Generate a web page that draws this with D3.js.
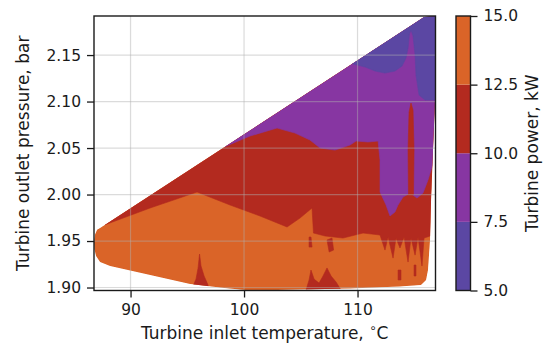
<!DOCTYPE html>
<html>
<head>
<meta charset="utf-8">
<script src="https://cdn.jsdelivr.net/npm/d3@7"></script>
<style>
  html, body { margin: 0; padding: 0; background: #fff; }
  svg { display: block; font-family: "DejaVu Sans", sans-serif; }
</style>
</head>
<body>
<svg id="chart" width="544" height="345"></svg>
<script>
// Axis ticks and contour levels
const temperatureTicks = [90, 100, 110];
const pressureTicks = [1.90, 1.95, 2.00, 2.05, 2.10, 2.15];
const powerLevels = [5, 7.5, 10, 12.5, 15];
const bandColors = ["#5b47a3", "#8736a2", "#b32a1f", "#da6428"];

// Outline of the operating region, [inlet temperature °C, outlet pressure bar]
const regionOutline = [
  [86.78, 1.949], [86.87, 1.957], [87.05, 1.962], [87.31, 1.964],
  [115.86, 2.191], [116.87, 2.192], [116.87, 2.166], [116.83, 2.1016],
  [116.65, 2.0478], [116.48, 1.9941], [116.39, 1.9511], [116.21, 1.9188],
  [116.04, 1.9081], [115.59, 1.9027], [113.74, 1.9011], [109.34, 1.8989],
  [104.93, 1.8978], [100.53, 1.8968], [98.24, 1.8995], [95.24, 1.9038],
  [91.72, 1.9134], [88.19, 1.9231], [87.31, 1.9274], [86.96, 1.9339],
  [86.81, 1.9414]
];

// Power 10–12.5 kW: everything above the 12.5 kW contour
const band10to12 = [
  [87.75, 1.9675], [91.72, 1.9855], [95.86, 2.0027], [98.77, 1.9887],
  [101.41, 1.9769], [103.79, 1.9651], [104.93, 1.9747], [105.99, 1.9855],
  [106.12, 1.9586], [107.14, 1.9554], [108.72, 1.9532], [110.49, 1.9586],
  [111.98, 1.9565], [112.42, 1.9403], [112.69, 1.9543], [113.13, 1.9317],
  [113.39, 1.9532], [113.74, 1.9425], [114.10, 1.9543], [114.45, 1.9274],
  [114.71, 1.9532], [115.07, 1.9349], [115.33, 1.9543], [115.68, 1.9231],
  [115.86, 1.9532], [116.40, 1.9554], [116.48, 1.9941], [116.65, 2.0478],
  [116.83, 2.1016], [116.87, 2.166], [116.87, 2.192], [115.86, 2.191]
];

// Power 7.5–10 kW: everything above the 10 kW contour
const band7to10 = [
  [98.33, 2.0516], [100.53, 2.0629], [102.91, 2.0715], [104.49, 2.0661],
  [105.81, 2.0586], [106.70, 2.0500], [108.02, 2.0478], [109.34, 2.0532],
  [109.87, 2.0575], [110.93, 2.0565], [111.81, 2.0575], [111.98, 2.0371],
  [111.98, 2.0027], [112.51, 1.9887], [112.86, 1.9769], [113.30, 1.9812],
  [113.57, 1.9887], [114.01, 1.9973], [114.63, 2.0016], [115.24, 1.9962],
  [115.77, 2.0016], [116.21, 2.0156], [116.61, 2.0317], [116.83, 2.1016],
  [116.87, 2.166], [116.87, 2.192], [115.86, 2.191]
];

// Power 5–7.5 kW: everything above the 7.5 kW contour
const band5to7 = [
  [109.52, 2.1406], [110.67, 2.1371], [111.55, 2.1328], [112.42, 2.1306],
  [113.30, 2.1328], [113.92, 2.1382], [114.27, 2.1468], [114.45, 2.1575],
  [114.58, 2.1726], [114.71, 2.1769], [114.89, 2.1704], [115.07, 2.1500],
  [115.15, 2.1285], [115.42, 2.1070], [115.95, 2.1016], [116.83, 2.1016],
  [116.87, 2.166], [116.87, 2.192], [115.86, 2.191]
];

// Isolated 10–12.5 kW pockets
const pocketNarrow = [
  [114.49, 1.9995], [114.45, 2.0478], [114.54, 2.0887], [114.71, 2.0984],
  [114.89, 2.0909], [114.98, 2.0478], [114.93, 1.9995]
];
const pocketLowA = [
  [95.51, 1.9016], [95.77, 1.9091], [95.95, 1.9210], [96.08, 1.9360],
  [96.21, 1.9231], [96.48, 1.9124], [96.83, 1.9027], [96.83, 1.895], [95.51, 1.895]
];
const pocketLowB = [
  [105.46, 1.8973], [105.73, 1.9081], [105.90, 1.9188], [106.17, 1.9091],
  [106.61, 1.9048], [106.96, 1.9124], [107.31, 1.9210], [107.67, 1.9124],
  [108.11, 1.9059], [108.55, 1.8973], [108.55, 1.895], [105.46, 1.895]
];
const pocketSpotA = [[105.73, 1.9543], [105.90, 1.9543], [105.99, 1.9435], [105.73, 1.9435]];
const pocketSpotB = [[107.31, 1.9511], [107.75, 1.9532], [107.89, 1.9403], [107.50, 1.9382]];
const pocketSpotC = [[113.57, 1.9188], [113.83, 1.9188], [113.83, 1.9081], [113.57, 1.9081]];
const pocketSpotD = [[114.98, 1.9242], [115.15, 1.9242], [115.15, 1.9124], [114.98, 1.9124]];

// Filled regions in drawing order, each tagged with its band's lower level
const regions = [
  { level: 12.5, points: regionOutline },
  { level: 10, points: band10to12 },
  { level: 7.5, points: band7to10 },
  { level: 5, points: band5to7 },
  { level: 10, points: pocketNarrow },
  { level: 10, points: pocketLowA },
  { level: 10, points: pocketLowB },
  { level: 10, points: pocketSpotA },
  { level: 10, points: pocketSpotB },
  { level: 10, points: pocketSpotC },
  { level: 10, points: pocketSpotD }
];

const svg = d3.select("#chart");
const plot = { left: 94, right: 435.5, top: 16, bottom: 290.5 };
const bar = { left: 456, right: 470.5 };
const tickFont = 15.5, labelFont = 17, tickLen = 7, tickPad = 6;
const ink = "#1a1a1a";

const x = d3.scaleLinear()
  .domain(d3.extent(regionOutline, d => d[0]))
  .range([plot.left, plot.right]);
const y = d3.scaleLinear()
  .domain(d3.extent(regionOutline, d => d[1]))
  .range([plot.bottom, plot.top]);

const color = d3.scaleThreshold()
  .domain(powerLevels.slice(1, -1))
  .range(bandColors);

svg.append("clipPath").attr("id", "region-clip")
  .append("path")
  .attr("d", d3.line().x(d => x(d[0])).y(d => y(d[1]))(regionOutline) + "Z");

const line = d3.line().x(d => x(d[0])).y(d => y(d[1]));
svg.append("g").attr("clip-path", "url(#region-clip)")
  .selectAll("path").data(regions).join("path")
  .attr("d", d => line(d.points) + "Z")
  .attr("fill", d => color(d.level + 0.1))
  .attr("stroke", d => color(d.level + 0.1))
  .attr("stroke-width", 0.6);

// Grid on top of the filled bands
const grid = svg.append("g").attr("stroke", "#b0b0b0").attr("stroke-width", 1.2).attr("stroke-opacity", 0.45);
grid.selectAll("line.gx").data(temperatureTicks).join("line")
  .attr("x1", d => x(d)).attr("x2", d => x(d))
  .attr("y1", plot.top).attr("y2", plot.bottom);
grid.selectAll("line.gy").data(pressureTicks).join("line")
  .attr("y1", d => y(d)).attr("y2", d => y(d))
  .attr("x1", plot.left).attr("x2", plot.right);

function styleAxis(g) {
  g.select(".domain").remove();
  g.selectAll(".tick line").attr("stroke", ink).attr("stroke-width", 1.3);
  g.selectAll(".tick text").attr("fill", ink).attr("font-size", tickFont)
    .attr("font-family", "DejaVu Sans");
}

svg.append("g").attr("transform", `translate(0,${plot.bottom})`)
  .call(d3.axisBottom(x).tickValues(temperatureTicks).tickFormat(d3.format("d"))
    .tickSize(tickLen).tickPadding(tickPad))
  .call(styleAxis);
svg.append("g").attr("transform", `translate(${plot.left},0)`)
  .call(d3.axisLeft(y).tickValues(pressureTicks).tickFormat(d3.format(".2f"))
    .tickSize(tickLen).tickPadding(tickPad))
  .call(styleAxis);

svg.append("rect")
  .attr("x", plot.left).attr("y", plot.top)
  .attr("width", plot.right - plot.left).attr("height", plot.bottom - plot.top)
  .attr("fill", "none").attr("stroke", ink).attr("stroke-width", 1.4);

// Axis titles
svg.append("text")
  .attr("x", (plot.left + plot.right) / 2).attr("y", 339)
  .attr("text-anchor", "middle").attr("font-size", labelFont).attr("fill", ink)
  .call(t => {
    t.append("tspan").text("Turbine inlet temperature, ");
    t.append("tspan").attr("font-size", labelFont * 0.7).attr("dy", -7).text("\u2218");
    t.append("tspan").attr("dy", 7).text("C");
  });
svg.append("text")
  .attr("transform", `translate(29,${(plot.top + plot.bottom) / 2}) rotate(-90)`)
  .attr("text-anchor", "middle").attr("font-size", labelFont).attr("fill", ink)
  .text("Turbine outlet pressure, bar");

// Colorbar
const cy = d3.scaleLinear().domain(d3.extent(powerLevels)).range([plot.bottom, plot.top]);
const bands = d3.pairs(powerLevels);
svg.append("g").selectAll("rect").data(bands).join("rect")
  .attr("x", bar.left).attr("width", bar.right - bar.left)
  .attr("y", d => cy(d[1])).attr("height", d => cy(d[0]) - cy(d[1]))
  .attr("fill", d => color(d[0] + 0.1));
svg.append("rect")
  .attr("x", bar.left).attr("y", plot.top)
  .attr("width", bar.right - bar.left).attr("height", plot.bottom - plot.top)
  .attr("fill", "none").attr("stroke", ink).attr("stroke-width", 1.4);
svg.append("g").attr("transform", `translate(${bar.right},0)`)
  .call(d3.axisRight(cy).tickValues(powerLevels).tickFormat(d3.format(".1f"))
    .tickSize(tickLen).tickPadding(tickPad))
  .call(styleAxis);
svg.append("text")
  .attr("transform", `translate(538,${(plot.top + plot.bottom) / 2}) rotate(-90)`)
  .attr("text-anchor", "middle").attr("font-size", labelFont).attr("fill", ink)
  .text("Turbine power, kW");
</script>
</body>
</html>
